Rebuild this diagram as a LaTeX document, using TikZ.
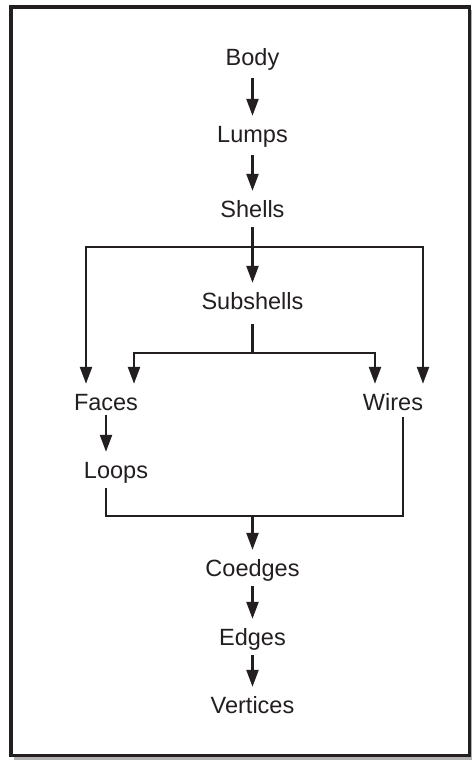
\documentclass[tikz,border=0pt]{standalone}
\usepackage{fontspec}
\setmainfont{Liberation Sans}
\usetikzlibrary{arrows.meta}
\definecolor{ink}{HTML}{231F20}
\begin{document}
\begin{tikzpicture}[x=1pt,y=-1pt,
  lbl/.style={inner sep=0pt,text height=26.2pt,text depth=9.8pt,text=ink,font=\fontsize{23.5}{27}\selectfont},
  conn/.style={draw=ink,line width=2.4pt},
  arr/.style={conn,-{Triangle[length=17pt,width=12pt]}}]
\useasboundingbox (0,0) rectangle (471,760);
% frame with shadow
\fill[gray!60] (14,10) rectangle (474,760);
\filldraw[fill=white,draw=ink,line width=3.2pt] (11,7) rectangle (469.5,755.5);
% nodes
\node[lbl] (body) at (252.5,57) {Body};
\node[lbl] (lumps) at (252.5,134) {Lumps};
\node[lbl] (shells) at (252.5,209) {Shells};
\node[lbl] (subshells) at (252.5,301) {Subshells};
\node[lbl] (faces) at (106,402) {Faces};
\node[lbl] (wires) at (393,402) {Wires};
\node[lbl] (loops) at (116,470) {Loops};
\node[lbl] (coedges) at (252.5,568) {Coedges};
\node[lbl] (edges) at (252.5,637) {Edges};
\node[lbl] (vertices) at (252.5,705) {Vertices};
\coordinate (bar1) at (252.5,247);
\coordinate (bar2) at (252.5,353);
\coordinate (bar3) at (252.5,516);
% connectors
\draw[arr] ([yshift=-3pt]body.south) -- (lumps.north);
\draw[arr] ([yshift=-3pt]lumps.south) -- (shells.north);
\draw[arr] (shells.south) -- (subshells.north);
\draw[arr] (bar1) -| ([xshift=-20pt]faces.north);
\draw[arr] (bar1) -| ([xshift=30pt]wires.north);
\draw[conn] ([yshift=-5pt]subshells.south) -- (bar2);
\draw[arr] (bar2) -| ([xshift=28pt]faces.north);
\draw[arr] (bar2) -| ([xshift=-18pt]wires.north);
\draw[arr] ([yshift=5pt]faces.south) -- (faces.south |- loops.north);
\draw[conn] ([xshift=-10pt]loops.south) |- (bar3);
\draw[conn] ([xshift=10pt,yshift=3pt]wires.south) |- (bar3);
\draw[arr] (bar3) -- (coedges.north);
\draw[arr] (coedges.south) -- (edges.north);
\draw[arr] (edges.south) -- (vertices.north);
\end{tikzpicture}
\end{document}
